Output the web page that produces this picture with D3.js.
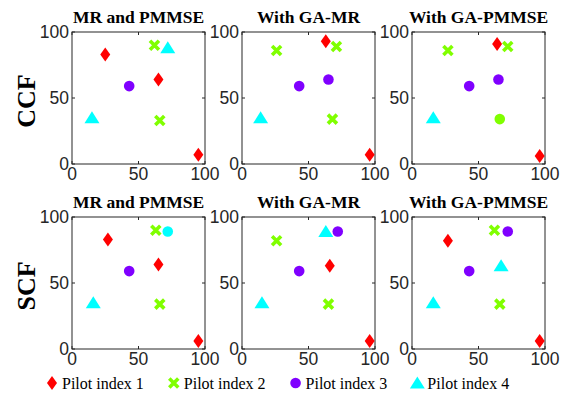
<!DOCTYPE html>
<html>
<head>
<meta charset="utf-8">
<script src="https://cdn.jsdelivr.net/npm/d3@7"></script>
<style>
  body { margin: 0; background: #fff; }
  svg { display: block; }
</style>
</head>
<body>
<div class="viz"></div>
<script>
'use strict'

const width = 577,
  height = 396;

// panel geometry
const col_x = [72, 242, 412],
  row_y = [32, 217],
  panel_w = 133,
  panel_h = 132;

const titles = ['MR and PMMSE', 'With GA-MR', 'With GA-PMMSE'];
const rows = ['CCF', 'SCF'];
const ticks = [0, 50, 100];

const pilots = ['Pilot index 1', 'Pilot index 2', 'Pilot index 3', 'Pilot index 4'];
const colors = ['#ff0000', '#80ff00', '#8000ff', '#00ffff'];
const shapes = ['diamond', 'cross', 'circle', 'triangle'];

// points: [x, y, pilot (0..3), optional shape override]
const ccf_mr_pmmse = [
  [25, 83, 0], [65, 64, 0], [95, 7, 0],
  [62, 90, 1], [66, 33, 1],
  [43, 59, 2],
  [15, 35, 3], [72, 88, 3]
];
const ccf_ga_mr = [
  [63, 93, 0], [96, 7, 0],
  [26, 86, 1], [71, 89, 1], [68, 34, 1],
  [43, 59, 2], [65, 64, 2],
  [14, 35, 3]
];
const ccf_ga_pmmse = [
  [64, 91, 0], [96, 6, 0],
  [27, 86, 1], [72, 89, 1], [66, 34, 1, 'circle'],
  [43, 59, 2], [65, 64, 2],
  [16, 35, 3]
];
const scf_mr_pmmse = [
  [27, 83, 0], [65, 64, 0], [95, 6, 0],
  [63, 90, 1], [66, 34, 1],
  [43, 59, 2],
  [16, 35, 3], [72, 89, 3, 'circle']
];
const scf_ga_mr = [
  [66, 63, 0], [96, 6, 0],
  [26, 82, 1], [65, 34, 1],
  [43, 59, 2], [72, 89, 2],
  [63, 89, 3], [15, 35, 3]
];
const scf_ga_pmmse = [
  [27, 82, 0], [96, 6, 0],
  [62, 90, 1], [66, 34, 1],
  [43, 59, 2], [72, 89, 2],
  [67, 63, 3], [16, 35, 3]
];
const panels = [
  [ccf_mr_pmmse, ccf_ga_mr, ccf_ga_pmmse],
  [scf_mr_pmmse, scf_ga_mr, scf_ga_pmmse]
];

let svg = d3.select('.viz')
  .append('svg')
  .attr('width', width)
  .attr('height', height);

function marker(g, shape, color) {
  if (shape === 'diamond') {
    g.append('path').attr('d', 'M0,-7L5,0L0,7L-5,0Z').attr('fill', color);
  } else if (shape === 'cross') {
    g.append('path').attr('d', 'M-4.5,-4.5L4.5,4.5M-4.5,4.5L4.5,-4.5')
      .attr('stroke', color).attr('stroke-width', 3.6).attr('fill', 'none');
  } else if (shape === 'circle') {
    g.append('circle').attr('r', 5.3).attr('fill', color);
  } else {
    g.append('path').attr('d', 'M0,-6.5L7.5,5.5L-7.5,5.5Z').attr('fill', color);
  }
}

const sans = "'Liberation Sans', Arial, sans-serif",
  serif = "'Liberation Serif', 'Times New Roman', serif";

panels.forEach((row, r) => {
  row.forEach((data, c) => {
    let x = d3.scaleLinear().domain([0, 100]).range([col_x[c], col_x[c] + panel_w]);
    let y = d3.scaleLinear().domain([0, 100]).range([row_y[r] + panel_h, row_y[r]]);
    let g = svg.append('g');

    g.append('rect')
      .attr('x', x(0)).attr('y', y(100))
      .attr('width', x(100) - x(0)).attr('height', y(0) - y(100))
      .attr('fill', 'none').attr('stroke', '#262626').attr('stroke-width', 1);

    // inward ticks on all four sides
    ticks.forEach(t => {
      g.append('line').attr('x1', x(t)).attr('x2', x(t))
        .attr('y1', y(0)).attr('y2', y(0) - 3).attr('stroke', '#262626');
      g.append('line').attr('x1', x(t)).attr('x2', x(t))
        .attr('y1', y(100)).attr('y2', y(100) + 3).attr('stroke', '#262626');
      g.append('line').attr('y1', y(t)).attr('y2', y(t))
        .attr('x1', x(0)).attr('x2', x(0) + 3).attr('stroke', '#262626');
      g.append('line').attr('y1', y(t)).attr('y2', y(t))
        .attr('x1', x(100)).attr('x2', x(100) - 3).attr('stroke', '#262626');
    });

    g.selectAll('.xt').data(ticks).join('text')
      .attr('x', d => x(d)).attr('y', y(0) + 16)
      .attr('text-anchor', 'middle')
      .style('font-family', sans).style('font-size', '17.5px').attr('fill', '#262626')
      .text(d => d);
    g.selectAll('.yt').data(ticks).join('text')
      .attr('x', x(0) - 3).attr('y', d => y(d)).attr('dy', '0.36em')
      .attr('text-anchor', 'end')
      .style('font-family', sans).style('font-size', '17.5px').attr('fill', '#262626')
      .text(d => d);

    g.append('text')
      .attr('x', (x(0) + x(100)) / 2).attr('y', y(100) - 9)
      .attr('text-anchor', 'middle')
      .style('font-family', serif).style('font-size', '17.5px').style('font-weight', 'bold')
      .text(titles[c]);

    g.selectAll('.pt').data(data).join('g')
      .attr('transform', d => `translate(${x(d[0])},${y(d[1])})`)
      .each(function(d) {
        marker(d3.select(this), d[3] || shapes[d[2]], colors[d[2]]);
      });
  });

  svg.append('text')
    .attr('transform', `translate(35,${row_y[r] + panel_h / 2 + 3}) rotate(-90)`)
    .attr('text-anchor', 'middle')
    .style('font-family', serif).style('font-size', '26px').style('font-weight', 'bold')
    .text(rows[r]);
});

// legend
let lx = 52;
pilots.forEach((p, i) => {
  let g = svg.append('g').attr('transform', `translate(${lx},383)`);
  marker(g, shapes[i], colors[i]);
  let t = g.append('text')
    .attr('x', 10).attr('y', 6)
    .style('font-family', serif).style('font-size', '16px')
    .text(p);
  lx += 10 + t.node().getComputedTextLength() + 30;
});
</script>
</body>
</html>
